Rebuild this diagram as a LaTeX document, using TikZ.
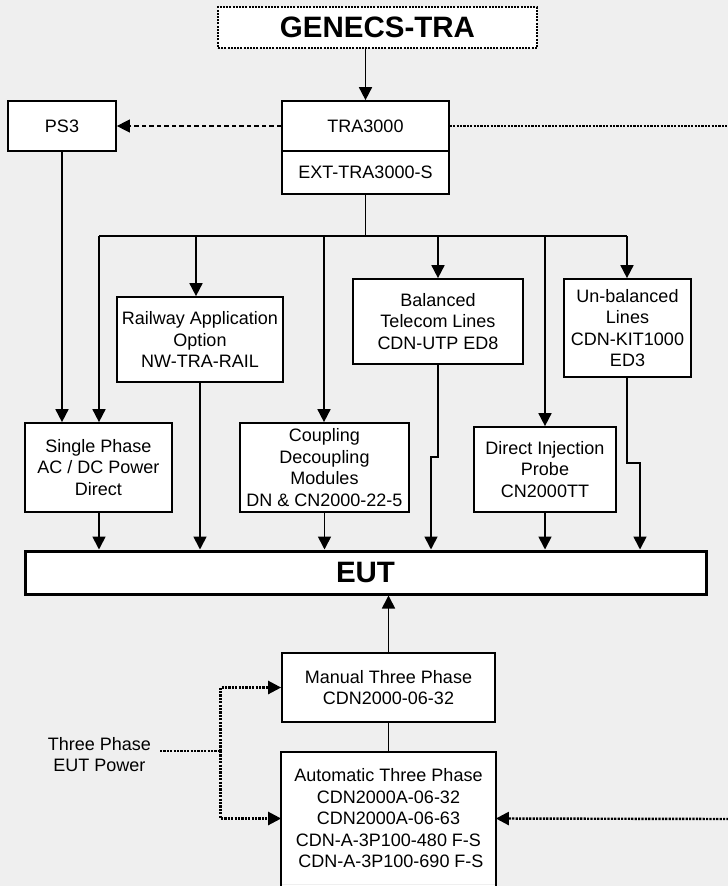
\documentclass[tikz,border=0pt]{standalone}
\usepackage{fontspec}
\setmainfont{Liberation Sans}
\usetikzlibrary{arrows.meta,calc}
\definecolor{bgc}{RGB}{239,239,239}
\begin{document}
\begin{tikzpicture}[x=1pt,y=-1pt,
  box/.style={draw=black, fill=white, line width=1.7pt, align=center, inner sep=0pt,
    font=\fontsize{18}{21.5}\selectfont},
  bigtext/.style={font=\bfseries\fontsize{29.5}{32}\selectfont},
  conn/.style={line width=1.7pt},
  tip/.style={-{Triangle[width=13pt,length=13pt]}},
  arr/.style={conn, tip},
  dotl/.style={line width=2.4pt, dash pattern=on 2.2pt off 1.2pt},
  dashl/.style={line width=1.2pt, dash pattern=on 4.5pt off 3pt}]
\useasboundingbox (0,0) rectangle (728,886);
\fill[bgc] (0,0) rectangle (728,886);
\clip (0,0) rectangle (728,886);

% top
\node[box, bigtext, line width=2.3pt, dash pattern=on 2pt off 1.2pt,
  minimum width=319, minimum height=41] (genecs) at (377.5,27.5) {GENECS-TRA};
\node[box, minimum width=167, minimum height=50] (tra) at (365.5,126) {TRA3000};
\node[box, minimum width=167, minimum height=43] (ext) at (365.5,172.5) {EXT-TRA3000-S};
\node[box, minimum width=108, minimum height=50] (ps3) at (62,126) {PS3};

% middle row
\node[box, minimum width=166, minimum height=85] (rail) at (200,339.5)
  {Railway Application\\Option\\NW-TRA-RAIL};
\node[box, minimum width=170, minimum height=85] (bal) at (438,321.5)
  {Balanced\\Telecom Lines\\CDN-UTP ED8};
\node[box, minimum width=127, minimum height=98] (unbal) at (627.5,328)
  {Un-balanced\\Lines\\CDN-KIT1000\\ED3};
\node[box, minimum width=147, minimum height=89] (single) at (98.5,467.5)
  {Single Phase\\AC / DC Power\\Direct};
\node[box, minimum width=169, minimum height=89] (coup) at (324.5,467.5)
  {Coupling\\Decoupling\\Modules\\DN \& CN2000-22-5};
\node[box, minimum width=142, minimum height=85] (di) at (545,469.5)
  {Direct Injection\\Probe\\CN2000TT};

% EUT
\node[box, bigtext, line width=3pt, minimum width=681, minimum height=43] (eut) at (365.5,572.5) {EUT};

% bottom
\node[box, minimum width=213, minimum height=69] (manual) at (388.5,687.5)
  {Manual Three Phase\\CDN2000-06-32};
\node[box, draw=none, minimum width=213, minimum height=131] (auto) at (388.5,818.5)
  {Automatic Three Phase\\CDN2000A-06-32\\CDN2000A-06-63\\CDN-A-3P100-480 F-S\\\hspace*{5pt}CDN-A-3P100-690 F-S};
\fill[white] (auto.south west) rectangle ([yshift=-12pt]auto.south east);
\draw[line width=1.7pt] ([yshift=-12pt]auto.south west) -- (auto.north west)
  -- (auto.north east) -- ([yshift=-12pt]auto.south east);
\node[align=center, inner sep=0pt, font=\fontsize{18}{21.5}\selectfont] (tp) at (99.3,754.5)
  {Three Phase\\EUT Power};

% coordinates
\coordinate (b1) at (99,236);
\coordinate (b2) at (196,236);
\coordinate (b3) at (324,236);
\coordinate (b4) at (438,236);
\coordinate (b5) at (545,236);
\coordinate (b6) at (627,236);
\coordinate (bj) at (431,457);
\coordinate (uj) at (640,463);
\coordinate (rtop) at (732,126);
\coordinate (rbot) at (732,819);
\coordinate (tpj) at (220.5,751);
\coordinate (tps) at (160,751);

% top connectors
\draw[arr] (genecs.south -| tra.north) -- (tra.north);
\draw[dashl, tip] (tra.west) -- (ps3.east);
\draw[dotl] (tra.east) -- (rtop);
\draw[arr] (ps3.south) -- (ps3.south |- single.north);
\draw[conn] (ext.south) -- (ext.south |- b1);
\draw[conn] (b1) -- (b6);
\draw[arr] (b1) -- (b1 |- single.north);
\draw[arr] (b2) -- (b2 |- rail.north);
\draw[arr] (b3) -- (b3 |- coup.north);
\draw[arr] (b4) -- (b4 |- bal.north);
\draw[arr] (b5) -- (b5 |- di.north);
\draw[arr] (b6) -- (b6 |- unbal.north);

% into EUT
\draw[arr] (b1 |- single.south) -- (b1 |- eut.north);
\draw[arr] (rail.south) -- (rail.south |- eut.north);
\draw[arr] (coup.south) -- (coup.south |- eut.north);
\draw[arr] (bal.south) |- (bj) -- (bj |- eut.north);
\draw[arr] (di.south) -- (di.south |- eut.north);
\draw[arr] (b6 |- unbal.south) |- (uj) -- (uj |- eut.north);

% bottom connectors
\draw[arr] (manual.north) -- (manual.north |- eut.south);
\draw[conn] (manual.south) -- (auto.north);
\draw[dotl] (tps) -- (tpj);
\draw[dotl, tip] (tpj) |- (manual.west);
\draw[dotl, tip] (tpj) |- (auto.west);
\draw[dotl, tip] (rbot) -- (auto.east);
\end{tikzpicture}
\end{document}
